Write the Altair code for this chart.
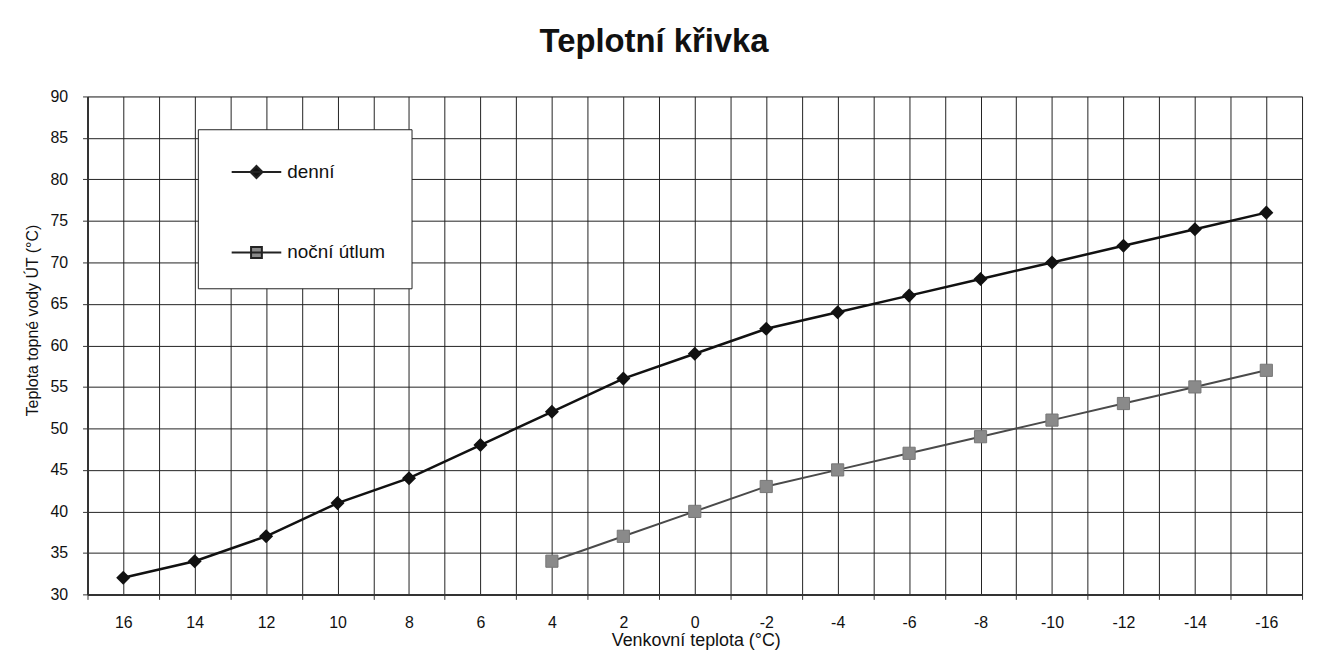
import altair as alt
import pandas as pd

# x categories (outdoor temperature, °C)
x_den = [16, 14, 12, 10, 8, 6, 4, 2, 0, -2, -4, -6, -8, -10, -12, -14, -16]
y_den = [32, 34, 37, 41, 44, 48, 52, 56, 59, 62, 64, 66, 68, 70, 72, 74, 76]
x_noc = [4, 2, 0, -2, -4, -6, -8, -10, -12, -14, -16]
y_noc = [34, 37, 40, 43, 45, 47, 49, 51, 53, 55, 57]
series_names = ["denní", "noční útlum"]
y_ticks = [30, 35, 40, 45, 50, 55, 60, 65, 70, 75, 80, 85, 90]
x_grid = list(range(-17, 18))

df = pd.DataFrame(
    {"x": x_den + x_noc,
     "y": y_den + y_noc,
     "series": [series_names[0]] * len(x_den) + [series_names[1]] * len(x_noc)}
)

FONT = "Liberation Sans"

xscale = alt.Scale(domain=[17, -17], nice=False, zero=False)
yscale = alt.Scale(domain=[30, 90], nice=False, zero=False)

xaxis = alt.Axis(
    values=x_grid,
    labelExpr="datum.value % 2 == 0 ? '' + datum.value : ''",
    labelOverlap=False, labelFlush=False,
    grid=True, gridColor="#222222", gridWidth=1, gridOpacity=1,
    tickSize=5, tickColor={"condition": {"test": "datum.value % 2 == 0", "value": "transparent"}, "value": "#333333"},
    labelPadding=15, labelFontSize=16, labelColor="#111111", labelFont=FONT,
    domainColor="#333333", domainWidth=2,
    title="Venkovní teplota (°C)", titleFont=FONT, titleFontSize=18, titleFontWeight="normal",
    titleColor="#111111", titleX=612, titleY=51, titleAlign="center", titleBaseline="alphabetic",
)
yaxis = alt.Axis(
    values=y_ticks,
    grid=True, gridColor="#222222", gridWidth=1, gridOpacity=1,
    tickSize=5, tickColor="#333333",
    labelPadding=15, labelFontSize=16, labelColor="#111111", labelFont=FONT,
    domainColor="#333333", domainWidth=2,
    title="Teplota topné vody ÚT (°C)", titleFont=FONT, titleFontSize=16, titleFontWeight="normal",
    titleColor="#111111", titleX=-55, titleY=225, titleAngle=-90, titleAlign="center", titleBaseline="middle",
)

base = alt.Chart(df)
enc_x = alt.X("x:Q", scale=xscale, axis=xaxis)
enc_y = alt.Y("y:Q", scale=yscale, axis=yaxis)

den_line = base.transform_filter(alt.datum.series == series_names[0]).mark_line(
    color="#111111", strokeWidth=2.5).encode(x=enc_x, y=enc_y)
noc_line = base.transform_filter(alt.datum.series == series_names[1]).mark_line(
    color="#4a4a4a", strokeWidth=2).encode(x=enc_x, y=enc_y)
den_pts = base.transform_filter(alt.datum.series == series_names[0]).mark_point(
    shape="diamond", size=200, filled=True, color="#111111", opacity=1).encode(x=enc_x, y=enc_y)
noc_pts = base.transform_filter(alt.datum.series == series_names[1]).mark_point(
    shape="square", size=150, filled=True, color="#8a8a8a", stroke="#777777", strokeWidth=1, opacity=1
).encode(x=enc_x, y=enc_y)

legend_paths = [
    "M-1.56,0H1.56M0,-0.38L0.38,0L0,0.38L-0.38,0Z",
    "M-1.56,0H1.56M-0.34,-0.34H0.34V0.34H-0.34Z",
]


def make_legend():
    return alt.Legend(
        title=None, orient="none", legendX=111, legendY=33,
        strokeColor="#222222", fillColor="white",
        padding=26, rowPadding=53, symbolSize=1024, symbolOffset=16, labelOffset=14,
        labelFontSize=19, labelFont=FONT, labelColor="#111111",
        symbolStrokeColor="#222222", symbolStrokeWidth=2,
    )


legend_layer = base.transform_filter("false").mark_point(filled=True, opacity=1).encode(
    x=enc_x, y=enc_y,
    color=alt.Color("series:N", scale=alt.Scale(domain=series_names, range=["#111111", "#8a8a8a"]),
                    legend=make_legend()),
    shape=alt.Shape("series:N", scale=alt.Scale(domain=series_names, range=legend_paths),
                    legend=make_legend()),
)

chart = alt.layer(noc_line, den_line, noc_pts, den_pts, legend_layer).properties(
    width=1222, height=501,
    autosize=alt.AutoSizeParams(type="none"),
    padding={"left": 80, "top": 87, "right": 7, "bottom": 60},
    title=alt.TitleParams("Teplotní křivka", font=FONT, fontSize=33, fontWeight="bold",
                          color="#111111", anchor="middle", dx=-41, offset=4, baseline="alphabetic"),
).configure_view(
    stroke="#333333", strokeWidth=1.5, fill="white"
).configure_legend(
    strokeWidth=1.5,
).configure(background="white")

chart.save("out.html", embed_options={"renderer": "svg", "actions": False})
